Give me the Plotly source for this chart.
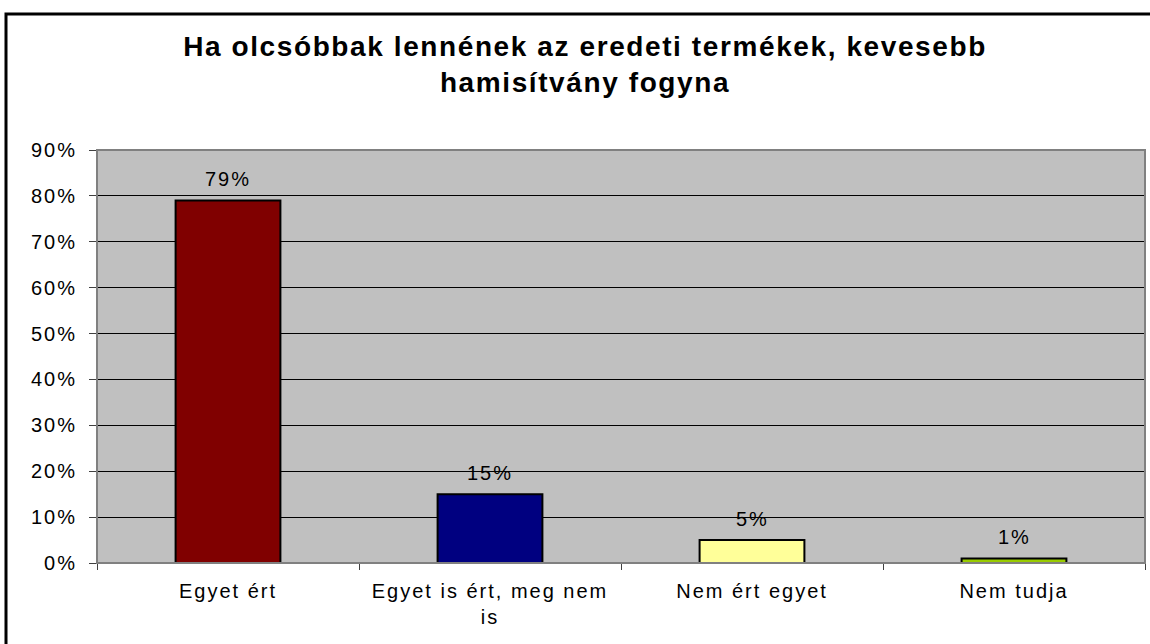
'''
    Bar chart: Ha olcsóbbak lennének az eredeti termékek, kevesebb hamisítvány fogyna
'''

import plotly.graph_objects as go

categories = ['Egyet ért', 'Egyet is ért, meg nem<br>is', 'Nem ért egyet', 'Nem tudja']
values = [79, 15, 5, 1]
bar_colors = ['#800000', '#000080', '#FFFF99', '#99CC00']
y_ticks = [0, 10, 20, 30, 40, 50, 60, 70, 80, 90]

title_lines = ['Ha olcsóbbak lennének az eredeti termékek, kevesebb',
               'hamisítvány fogyna']

FONT = 'Liberation Sans, Arial, sans-serif'


def spaced(txt, px):
    # plotly has no letter-spacing option, a span style does the trick
    return '<br>'.join(f"<span style='letter-spacing:{px}px'>{part}</span>"
                       for part in txt.split('<br>'))


fig = go.Figure()

fig.add_trace(go.Bar(
    x=categories,
    y=values,
    marker=dict(color=bar_colors, line=dict(color='black', width=2)),
    showlegend=False,
    hoverinfo='skip',
))

# value labels above the bars
for cat, val in zip(categories, values):
    fig.add_annotation(x=cat, y=val, text=spaced(f'{val}%', 2),
                       showarrow=False, yanchor='middle', yshift=21,
                       font=dict(family=FONT, size=20, color='black'))

W, H = 1150, 644
ml, mr, mt, mb = 97, 5, 150, 81
pw, ph = W - ml - mr, H - mt - mb

fig.update_layout(
    width=W, height=H,
    margin=dict(l=ml, r=mr, t=mt, b=mb),
    paper_bgcolor='white',
    plot_bgcolor='#C0C0C0',
    bargap=0.6,
    font=dict(family=FONT, size=20, color='black'),
    title=dict(
        text='<br>'.join(f"<span style='letter-spacing:1.6px'><b>{t}</b></span>"
                         for t in title_lines),
        x=585 / W, xanchor='center', xref='container',
        y=1 - 56 / H, yanchor='top', yref='container',
        font=dict(family=FONT, size=28, color='black'),
    ),
    xaxis=dict(
        tickson='boundaries', ticks='outside', ticklen=6, tickcolor='#404040',
        tickvals=categories, ticktext=[spaced(c, 2) for c in categories],
        ticklabelstandoff=10,
        showline=True, linecolor='#404040', linewidth=1,
        showgrid=False, fixedrange=True,
    ),
    yaxis=dict(
        range=[0, 90], tickvals=y_ticks,
        ticktext=[spaced(f'{v}%', 2) for v in y_ticks],
        ticks='outside', ticklen=7, tickcolor='#404040',
        ticklabelstandoff=8,
        showgrid=True, gridcolor='black', gridwidth=1,
        zeroline=False, showline=False, fixedrange=True,
    ),
)

# plot area frame
fig.add_shape(type='rect', xref='paper', yref='paper', x0=0, x1=1, y0=0, y1=1,
              line=dict(color='#808080', width=2), layer='above')
# outer chart border (right and bottom edges fall outside the page)
fig.add_shape(type='rect', xref='paper', yref='paper',
              x0=(6 - ml) / pw, x1=1.5, y0=-0.5, y1=1 + (mt - 14) / ph,
              line=dict(color='black', width=3), layer='above')

# drop the default 8px body margin so the figure sits at the page corner
fig.write_html('out.html', config={'displayModeBar': False},
               post_script="document.body.style.margin='0';")
